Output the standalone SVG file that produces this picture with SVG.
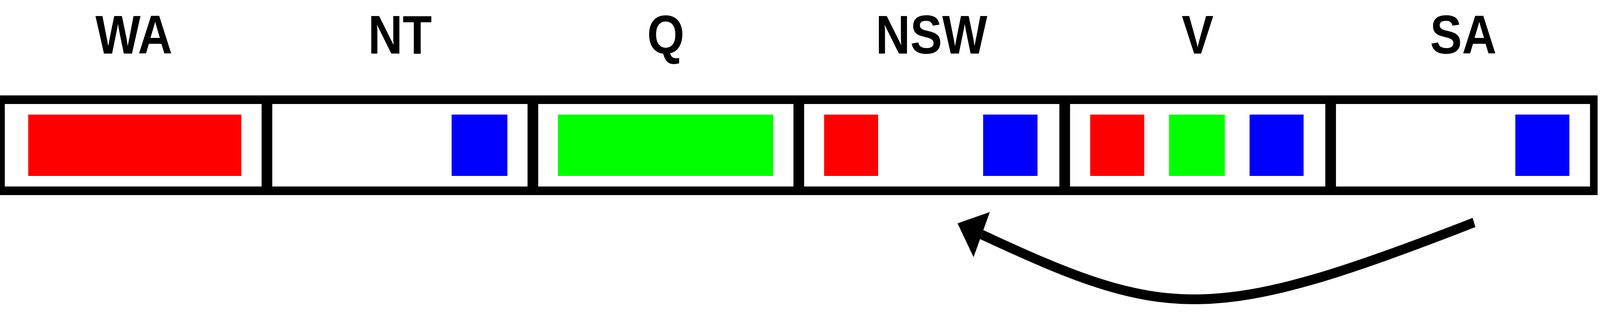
<svg xmlns="http://www.w3.org/2000/svg" width="4648" height="798" viewBox="0 0 4648 798" preserveAspectRatio="none" style="width:100%;height:100%;display:block">
  <style>
    .cell { fill: #ffffff; stroke: #000000; stroke-width: 22; }
    .lbl { font-family: "Liberation Sans", Arial, sans-serif; font-weight: bold; font-size: 139px; fill: #000000; text-anchor: middle; }
    .r { fill: #ff0000; }
    .g { fill: #00ff00; }
    .b { fill: #0000ff; }
    .conn { fill: none; stroke: #000000; stroke-width: 25; }
  </style>
  <defs>
    <marker id="ah" markerUnits="userSpaceOnUse" viewBox="0 0 76 125" refX="0" refY="62.5" markerWidth="76" markerHeight="125" orient="auto">
      <path d="M0,0 L76,62.5 L0,125 Z" fill="#000000"/>
    </marker>
  </defs>
  <rect x="0" y="0" width="4648" height="798" fill="#ffffff"/>

  <g id="WA">
    <text class="lbl" x="389" y="137">WA</text>
    <rect class="cell" x="3" y="255" width="768" height="233"/>
    <rect class="r" x="82" y="293" width="619" height="157"/>
  </g>
  <g id="NT">
    <text class="lbl" x="1162" y="137">NT</text>
    <rect class="cell" x="780" y="255" width="763.5" height="233"/>
    <rect class="b" x="1312" y="293" width="162" height="157"/>
  </g>
  <g id="Q">
    <text class="lbl" x="1934" y="137">Q</text>
    <rect class="cell" x="1552.5" y="255" width="763.5" height="233"/>
    <rect class="g" x="1621" y="293" width="625" height="157"/>
  </g>
  <g id="NSW">
    <text class="lbl" x="2706" y="137">NSW</text>
    <rect class="cell" x="2325" y="255" width="763.5" height="233"/>
    <rect class="r" x="2394" y="293" width="157" height="157"/>
    <rect class="b" x="2856" y="293" width="158" height="157"/>
  </g>
  <g id="V">
    <text class="lbl" x="3479" y="137">V</text>
    <rect class="cell" x="3097.5" y="255" width="763.5" height="233"/>
    <rect class="r" x="3167" y="293" width="157" height="157"/>
    <rect class="g" x="3396" y="293" width="162" height="157"/>
    <rect class="b" x="3630" y="293" width="157" height="157"/>
  </g>
  <g id="SA">
    <text class="lbl" x="4251" y="137">SA</text>
    <rect class="cell" x="3870" y="255" width="760" height="233"/>
    <rect class="b" x="4402" y="293" width="157" height="157"/>
  </g>

  <g id="connectors">
    <path class="conn" d="M4282,569 C3517,832.2 3387,819.4 2852,600" marker-end="url(#ah)"/>
  </g>
</svg>
